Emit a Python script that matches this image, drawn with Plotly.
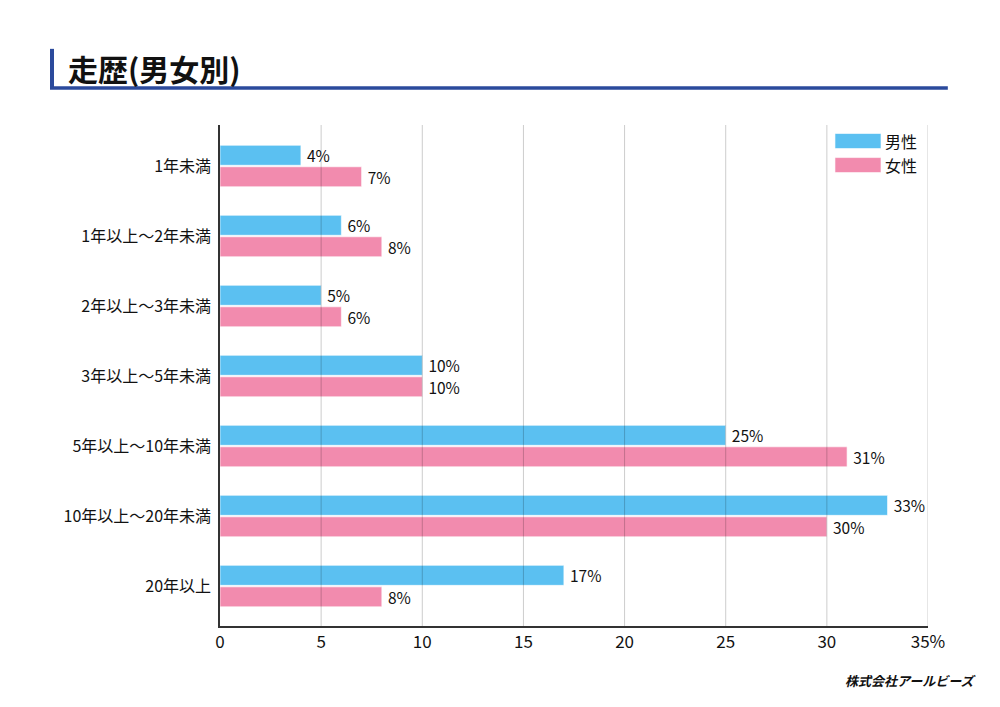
import plotly.graph_objects as go

categories = ["1年未満", "1年以上～2年未満", "2年以上～3年未満", "3年以上～5年未満",
              "5年以上～10年未満", "10年以上～20年未満", "20年以上"]
male = [4, 6, 5, 10, 25, 33, 17]
female = [7, 8, 6, 10, 31, 30, 8]
series_names = ["男性", "女性"]
x_ticks = [0, 5, 10, 15, 20, 25, 30, 35]
x_tick_labels = ["0", "5", "10", "15", "20", "25", "30", "35%"]

BLUE = "#5BC0F1"
PINK = "#F28BAE"
FONT = "Noto Sans CJK JP"

fig = go.Figure()
for name, vals, col in [(series_names[0], male, BLUE), (series_names[1], female, PINK)]:
    fig.add_trace(go.Bar(
        y=categories, x=vals, name=name, orientation="h",
        marker=dict(color=col, line=dict(color="rgba(255,255,255,0.6)", width=1)),
        text=[f"\u2009{v}%" for v in vals], textposition="outside", constraintext="none",
        textfont=dict(size=15.5, color="#111", family=FONT),
        cliponaxis=False, showlegend=False,
    ))

shapes = []
for t in x_ticks[1:]:
    shapes.append(dict(type="line", xref="x", yref="paper", x0=t, x1=t, y0=0, y1=1,
                       line=dict(color="rgba(0,0,0,0.2)", width=1), layer="above"))
# title decorations
shapes.append(dict(type="rect", xref="paper", yref="paper", x0=-0.2401, x1=-0.2345, y0=1.072, y1=1.152,
                   fillcolor="#2B4A9C", line=dict(width=0)))
shapes.append(dict(type="line", xref="paper", yref="paper", x0=-0.2401, x1=1.028, y0=1.074, y1=1.074,
                   line=dict(color="#2B4A9C", width=3.5)))

annotations = [
    dict(text="<b>走歴(男女別)</b>", xref="paper", yref="paper", x=-0.217, y=1.114,
         xanchor="left", yanchor="middle", showarrow=False,
         font=dict(size=30, color="#111", family=FONT)),
    dict(text="<b><i>株式会社アールビーズ</i></b>", xref="paper", yref="paper", x=1.072, y=-0.108,
         xanchor="right", yanchor="middle", showarrow=False,
         font=dict(size=13, color="#111", family=FONT)),
]
# manual legend
for i, (name, col) in enumerate([(series_names[0], BLUE), (series_names[1], PINK)]):
    yc = 0.968 - i * 0.048
    shapes.append(dict(type="rect", xref="paper", yref="paper", x0=0.8686, x1=0.9336,
                       y0=yc - 0.015, y1=yc + 0.015, fillcolor=col,
                       line=dict(color="rgba(255,255,255,0.6)", width=1)))
    annotations.append(dict(text=name, xref="paper", yref="paper", x=0.937, y=yc,
                            xanchor="left", yanchor="middle", showarrow=False,
                            font=dict(size=16, color="#111", family=FONT)))

fig.update_layout(
    width=1000, height=707,
    margin=dict(l=220, r=72, t=125, b=81),
    paper_bgcolor="white", plot_bgcolor="white",
    barmode="group", bargap=0.386, bargroupgap=0.07,
    font=dict(family=FONT, color="#111"),
    shapes=shapes, annotations=annotations,
    xaxis=dict(range=[0, 35], tickvals=x_ticks, ticktext=x_tick_labels,
               showgrid=False, zeroline=False, showline=True, linecolor="#333", linewidth=1.5,
               ticks="", tickfont=dict(size=17, family=FONT, color="#111")),
    yaxis=dict(categoryorder="array", categoryarray=categories,
               range=[6.57, -0.586], showgrid=False, zeroline=False,
               showline=True, linecolor="#333", linewidth=1.5, ticks="", ticklabelstandoff=4,
               tickfont=dict(size=16, family=FONT, color="#111")),
)

fig.write_html("out.html", config={"displayModeBar": False},
               post_script="document.body.style.margin='0';document.body.style.overflow='hidden';")
